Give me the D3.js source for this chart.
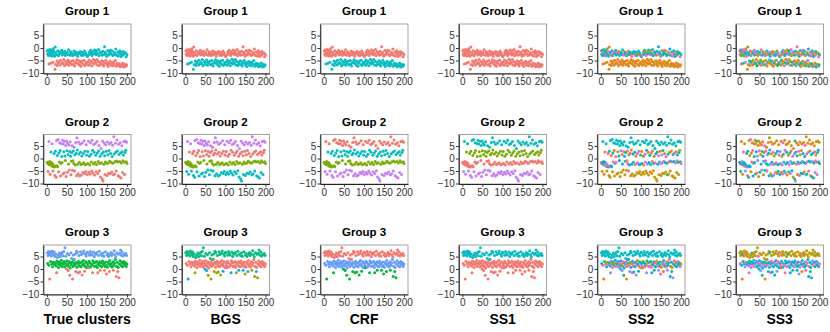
<!DOCTYPE html>
<html>
<head>
<meta charset="utf-8">
<script src="https://cdn.jsdelivr.net/npm/d3@7"></script>
<style>
body { margin: 0; background: #fff; }
text { font-family: "Liberation Sans", Arial, sans-serif; }
</style>
</head>
<body>
<svg id="chart"></svg>
<script>
// --- donnees ---
var methods = ["True clusters", "BGS", "CRF", "SS1", "SS2", "SS3"];
var groups = ["Group 1", "Group 2", "Group 3"];
var xTicks = [0, 50, 100, 150, 200];
var yTicks = [-10, -5, 0, 5];

// group 1 : observations 1..200, a = bas, b = haut
var g1True = "bbbbabbbbabbbbabbbba" + "babbaabababbaababbab" + "aababbabaabbabaababb" + "ababbaababbabaabbaba" +
    "abbaabababbaababbaab" + "babaabbabababbaababa" + "babbaababbaababbabab" + "aabbababbaabababbaba" +
    "babbaababbababaabbab" + "ababbabaabbabaababab";
var g1Y = [
    -1.2,-2.5,-0.8,-3.0,-6.4,-1.8,-2.2,-0.6,-2.9,-6.1,-1.5,-3.2,-0.9,-2.0,-5.7,-0.3,-2.6,-1.4,-3.3,-8.5,
    0.4,-6.6,-1.9,-2.7,-5.2,-7.0,-1.1,-6.0,-3.1,-5.5,-2.3,-1.6,-6.8,-4.9,-2.0,-6.3,-0.9,-2.8,-5.8,-1.7,
    -6.2,-4.6,-2.4,-7.1,-1.3,-3.0,-5.4,-2.1,-6.5,-5.9,-1.8,-2.6,-4.8,-0.7,-6.9,-5.6,-2.9,-6.1,-1.5,-2.2,
    -5.3,-1.9,-6.7,-3.1,-2.4,-5.0,-6.4,-1.2,-7.2,-2.7,-2.0,-5.7,-1.6,-6.0,-4.7,-2.5,-3.3,-6.2,-1.8,-5.1,
    -6.8,-2.2,-1.4,-5.5,-7.3,-2.9,-6.1,-1.7,-5.2,-3.0,-2.3,-6.6,-4.9,-1.2,-7.0,-2.6,-2.0,-5.8,-6.3,-3.2,
    -3.4,-5.6,-2.8,-6.9,-4.8,-1.6,-2.5,-6.2,-0.9,-5.3,-2.1,-7.1,-3.0,-1.4,-5.9,-4.5,-2.3,-6.4,-0.8,-5.0,
    -1.9,-6.0,-2.7,-1.1,-4.6,-6.8,-2.2,-5.4,-0.6,-3.1,-7.0,-5.7,-1.5,-6.3,-2.4,-1.8,-5.1,-2.9,-6.6,-1.3,
    -5.5,-7.2,-2.6,0.5,-6.1,-1.7,-4.9,-2.3,-3.3,-6.7,-5.8,-1.0,-7.4,-2.8,-6.2,-1.5,-2.1,-5.3,-0.9,-6.9,
    -2.4,-6.0,-1.2,-3.0,-7.1,-5.6,-2.7,-6.4,-1.8,-2.2,-5.0,-0.4,-7.3,-2.9,-6.6,-6.1,-1.6,-3.2,-7.0,-2.0,
    -6.3,-1.1,-7.5,-2.5,-3.4,-6.8,-1.7,-7.2,-6.0,-2.9,-1.4,-7.6,-2.2,-6.5,-7.0,-1.9,-7.3,-3.5,-6.7,-2.6
];

// group 2 : p = haut, c = ~2, g = ~-2, r = bas
var g2True = "ggrgpggrgcggpgrggcgr" + "cgrpgcgprcgpcrgpcgpr" + "pcrpcgprpcrpcgprcpcr" + "gcprgcgprcgpcrpcgrpc" +
    "grpcgrcpgrcgprcgrpcg" + "rcgprcgrpcgrpcrgpcrg" + "pcrgpcrgcprgcrpgcrpr" + "cgpcrgpcgrpcgrcpgrcp" +
    "grcpgrpcrgpcrgpcgrpc" + "rgpcrgpcrgcpgrcpcgpg";
var g2Y = [
    -1.5,-2.0,-5.2,-1.8,6.8,-2.5,-1.2,-6.3,-2.2,2.6,-1.6,-3.0,5.9,-2.1,-5.0,-3.2,-2.8,2.0,-3.4,-6.8,
    2.9,-3.1,-7.5,7.2,-2.9,1.2,-3.3,7.6,-5.3,2.2,-1.4,6.3,3.2,-7.0,-2.0,6.0,0.8,-1.6,7.3,-6.2,
    5.8,2.7,-5.8,6.9,1.0,-0.8,5.2,-7.2,7.0,3.1,-5.5,6.1,1.6,-2.2,5.4,-4.6,2.8,6.7,0.9,-6.5,
    -1.1,2.4,5.1,-4.7,-0.9,3.0,-2.0,4.5,-5.0,1.5,-2.6,6.4,2.1,-6.9,8.3,3.4,-2.3,-6.1,6.6,1.8,
    -1.5,-7.0,5.7,2.5,-2.4,-6.6,1.0,6.2,-2.1,-5.6,2.0,-1.7,7.1,-6.0,2.9,-2.5,-5.2,5.5,1.4,-2.2,
    -6.4,2.8,-2.0,6.9,-5.5,0.9,-2.6,-6.2,6.3,1.7,-1.4,-5.0,7.3,3.3,-5.8,-2.2,5.6,2.5,-6.6,-1.6,
    6.0,1.3,-5.3,-2.4,6.8,2.2,-6.0,-1.2,3.0,5.2,-4.9,-2.0,0.9,-7.4,4.0,-1.7,1.9,-8.2,7.0,-9.0,
    2.6,-2.3,6.2,1.1,-6.4,-1.4,5.5,2.9,-2.0,-6.8,6.6,1.5,-1.8,-5.9,3.2,5.8,-1.1,-6.1,2.0,6.4,
    -1.6,-5.4,0.8,5.3,-1.9,-6.5,8.7,1.8,-6.2,-1.3,6.1,2.5,-5.0,-1.0,7.4,3.0,-1.4,-6.9,5.7,1.6,
    -7.3,-1.2,6.3,2.2,-7.8,-1.8,5.1,2.7,-5.6,-0.9,1.4,6.8,-1.5,-6.4,2.4,7.0,3.3,-1.3,6.5,-2.0
];

// group 3 : b = haut, g = ~2, r = bas
var g3True = "bgbbgbrbgbbgbgbgbbgb" + "gbgrgbgbggbgbgbggbgb" + "gbggbgbgrgbgrgbgrggb" + "gbgrgbggbgbrgbgbgrgb" +
    "grgbgbgrgbgbgrgbgbgb" + "gbgrgbgbgbgbgrgbgbgb" + "gbggbgrgbgbgrgbggbgb" + "gbgrgbggrbgbgbgrgbgb" +
    "gbgbgrgbgbgbrgbgrgbr" + "gbgbgbgbgbggbgbgbgbg";
var g3Y = [
    6.5,2.2,5.4,7.0,1.5,6.1,-4.0,5.8,3.0,6.9,5.2,2.0,7.2,0.9,6.3,2.7,5.6,6.8,1.8,5.0,
    2.5,6.0,1.2,-1.5,3.2,4.6,2.1,5.5,0.6,2.8,6.4,1.6,4.9,2.4,5.9,3.5,1.0,6.6,2.2,5.3,
    1.9,7.0,3.0,0.8,8.5,2.5,5.1,1.4,0.0,3.3,6.2,2.0,-0.6,1.1,5.7,2.9,-2.5,0.4,2.3,6.5,
    1.7,4.2,2.8,-4.0,1.0,5.6,3.6,2.2,3.8,1.5,6.0,-1.0,2.6,7.1,0.7,6.6,2.1,-1.5,3.1,5.4,
    1.3,-1.2,2.4,6.9,0.9,5.8,2.7,-2.4,1.6,6.3,3.4,7.2,2.0,-0.9,1.1,6.0,2.9,5.2,0.5,6.7,
    2.2,6.4,1.4,0.5,3.1,5.5,2.6,7.0,0.8,6.1,2.0,5.6,1.5,-1.5,3.3,6.8,2.4,5.0,1.0,6.2,
    2.7,5.9,1.3,3.0,6.6,0.6,-1.5,2.2,5.4,1.7,7.1,2.9,-0.5,1.2,6.0,2.5,0.9,5.3,3.2,6.4,
    1.8,5.1,2.3,-0.5,1.0,6.9,2.8,1.4,-2.0,5.6,0.7,6.2,2.6,5.0,1.9,-1.0,3.4,5.8,1.2,6.6,
    2.2,5.4,0.8,6.1,2.9,-0.5,1.5,7.3,2.4,5.7,3.8,4.8,-3.0,1.1,6.5,2.7,-1.0,0.6,5.9,-3.5,
    2.0,6.3,3.3,7.6,1.4,5.5,2.6,6.8,0.9,5.2,2.2,3.0,6.0,1.6,5.7,2.5,6.2,1.0,5.4,2.0
];

// etiquettes estimees par methode : groupe vrai -> code(s) de cluster, dans l'ordre des observations
var g1Lab = [
    {a: "R", b: "C"},
    {a: "C", b: "R"},
    {a: "C", b: "R"},
    {a: "R", b: "R"},
    {a: "N", b: "KCTUKYCUTKCUYTKCNUKTCYKUCTKUYCKTUCKYTUCKNTUCYKTUCKUTYCKTUCKYUTCKNUTCKYTCUKTUYCKUCTKYUCTKUNCTYKUCTK"},
    {a: "NTVNYTNVTNYNVTNGNVTYNTVNTYVNTNVYTNVNTYNVTNGVNTYNVTNYVTNVNYTVNTNVYNTVNTYNVTNYVTNNVTYNVNTNYVTNVNYTNV",
     b: "KVCYTNKCVYKTNCVKYTCKVNYCKTVKCYNTVKCYTKVNCKYVTCKNYVKTCYKVNTKCYVKTNCYKVTCKNVYKTCVKYNTCKVYKTCNVKYTCK"}
];
var g2Lab = [
    {p: "P", c: "C", g: "O", r: "R"},
    {p: "P", c: "R", g: "O", r: "C"},
    {p: "R", c: "C", g: "O", r: "P"},
    {p: "C", c: "O", g: "R", r: "P"},
    {p: "C", c: "NKTNUYKNTVNKUTNYKNTUNKVTNYKUNTKNYUTKNVTNKUYNTKNUTYKNVNTKUNY",
     g: "RKUCTRUKVCRTKUCRVKTUCRKUTCVRKUCTRKVUCRTKUCRVKUTRCKUVRTCKURV",
     r: "DDDDDDDDDDDDDDKDDDDDDDDDDDDDDDDDDDDDDDDTDDDDDDDDDDD"},
    {p: "NNNKNNNNTNNNNNKNNYNNNNNNKNNNNNNTNNNNNKNNNNNNNNYNNNN",
     c: "KTUNYKTUVKNTUYKVTUNKYTUKVNTKUYTNKVUTKYNUTKVYTUKNTUVKYTNUKVT",
     g: "UCTKVUCRTKUVCTUKRCVTUKCTVUKCRTUVKCTUKVCTRUKCVTUKCTVURKCTUVK",
     r: "TDVKTDUTKDTVDTKUDTVKDTUDKTVDTKUDTVDKTUDVTKDUTVKDTUDKVTDKTUD"}
];
var g3Lab = [
    {b: "B", g: "G", r: "R"},
    {b: "E", g: "R", r: "SYSSYYYYYYSMSYSSYSYYSY"},
    {b: "R", g: "B", r: "G"},
    {b: "C", g: "R", r: "R"},
    {b: "C", g: "UKTNUYKTUVNKUTYUKNTUVKTUNYKUTVKNUTKYUNTKVUTKNUYTKUVNTKUYTNKUVTKNUTYKUNVTKUTNYKUTVKNUTKYUN",
     r: "NVUVTNVKUVTNVUTVKNVUTV"},
    {b: "DDDDTDDDKDDDDDDTDDDDDDKDDDDDDDDTDDDDDDDDKDDDDDDDTDDDDDDDDDDDKDDDDDDDDD",
     g: "KUTCVKUTKCUVTKUCKTVUCKTUKVCUTKCUVTKUCTKVUCKTUVCKUTKCVUTKCUKTVUCKTUKCVTUKCUTVKUCKTUVCKT",
     r: "NKUVTNCKUTVNKUCTVNKUTC"}
];

// couleurs (palettes ggplot)
var hue = {
    R: "#F8766D", C: "#00BFC4", O: "#7CAE00", P: "#C77CFF", G: "#00BA38", B: "#619CFF",
    E: "#00BF7D", S: "#00B0F6", Y: "#A3A500", M: "#E76BF3", N: "#E68613", K: "#FF61C3",
    D: "#C49A00", T: "#00C08B", U: "#00A9FF", V: "#8494FF"
};

var allY = [g1Y, g2Y, g3Y];
var allTrue = [g1True, g2True, g3True];
var allLab = [g1Lab, g2Lab, g3Lab];

var svg = d3.select("#chart").attr("width", 830).attr("height", 332);

var pw = 87.7, ph = 49.5;
var x = d3.scaleLinear().domain([-9, 210]).range([0, pw]);
var y = d3.scaleLinear().domain([-10.2, 9.6]).range([ph, 0]);

groups.forEach(function(gname, gi) {
    var ys = allY[gi], tr = allTrue[gi];
    methods.forEach(function(m, mi) {
        var spec = allLab[gi][mi];
        var count = {};
        var pts = ys.map(function(v, i) {
            var t = tr[i];
            var s = spec[t];
            var k = count[t] || 0;
            count[t] = k + 1;
            return {x: i + 1, y: v, c: hue[s.length === 1 ? s : s[k % s.length]]};
        });

        var left = 43.3 + 138.5 * mi, top = 24 + 110.5 * gi;
        var g = svg.append("g").attr("transform", "translate(" + left + "," + top + ")");

        g.append("rect")
            .attr("width", pw).attr("height", ph)
            .attr("fill", "#fff").attr("stroke", "#8a8a8a").attr("stroke-width", 0.8);

        g.selectAll("circle").data(pts).enter().append("circle")
            .attr("cx", function(d) { return x(d.x); })
            .attr("cy", function(d) { return y(d.y); })
            .attr("r", 1.5)
            .attr("fill", function(d) { return d.c; });

        var ax = g.append("g")
            .attr("transform", "translate(0," + ph + ")")
            .call(d3.axisBottom(x).tickValues(xTicks).tickSize(2.8).tickSizeOuter(0));
        var ay = g.append("g")
            .call(d3.axisLeft(y).tickValues(yTicks).tickSize(2.8).tickSizeOuter(0));
        [ax, ay].forEach(function(a) {
            a.select(".domain").attr("stroke", "#222");
            a.selectAll(".tick line").attr("stroke", "#333");
            a.selectAll(".tick text").attr("fill", "#333")
                .style("font-size", "10px").style("font-family", "'Liberation Sans', Arial, sans-serif");
        });
        ax.selectAll(".tick text").attr("dy", "0.71em").attr("y", 4.5);
        ay.selectAll(".tick text").attr("x", -4);

        g.append("text")
            .attr("x", pw / 2).attr("y", -9)
            .attr("text-anchor", "middle")
            .style("font-size", "11.5px").style("font-weight", "bold")
            .text(gname);

        if (gi === 2) {
            g.append("text")
                .attr("x", pw / 2).attr("y", ph + 29)
                .attr("text-anchor", "middle")
                .style("font-size", "14px").style("font-weight", "bold")
                .text(m);
        }
    });
});
</script>
</body>
</html>
